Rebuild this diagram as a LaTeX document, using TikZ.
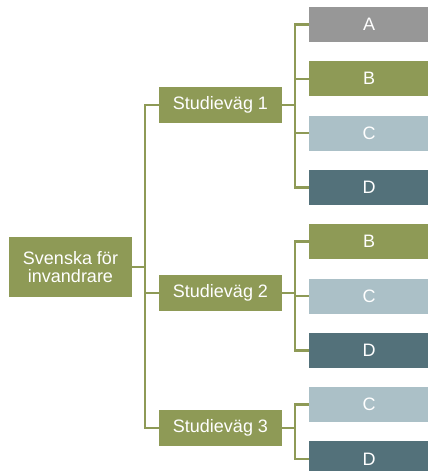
\documentclass[tikz,border=0pt]{standalone}
\usepackage{fontspec}
\setmainfont{Liberation Sans}
\usetikzlibrary{positioning}
\definecolor{olive}{HTML}{8E9A56}
\definecolor{greyA}{HTML}{979797}
\definecolor{paleC}{HTML}{ABC0C7}
\definecolor{tealD}{HTML}{53717A}
\begin{document}
\begin{tikzpicture}[x=1pt, y=-1pt, align=center, node distance=18.9pt, font=\fontsize{18}{18}\selectfont]

\tikzstyle{rootbox} = [rectangle, minimum width=123pt, minimum height=60pt, inner sep=0pt, text=white, fill=olive]
\tikzstyle{pathbox} = [rectangle, minimum width=123pt, minimum height=36pt, inner sep=0pt, text=white, fill=olive]
\tikzstyle{leaf} = [rectangle, minimum width=120pt, minimum height=35pt, inner sep=0pt, text=white]
\tikzstyle{link} = [draw=olive, line width=2.5pt]

\useasboundingbox (0,0) rectangle (428,471);

\node (sfi) [rootbox] at (70.5,267) {Svenska för\\invandrare};
\node (sv1) [pathbox] at (220.5,105) {Studieväg 1};
\node (sv2) [pathbox] at (220.5,293) {Studieväg 2};
\node (sv3) [pathbox] at (220.5,428) {Studieväg 3};

\node (a1) [leaf, fill=greyA] at (369,24.5) {A};
\node (b1) [leaf, fill=olive, below=of a1] {B};
\node (c1) [leaf, fill=paleC, below=of b1] {C};
\node (d1) [leaf, fill=tealD, below=of c1] {D};
\node (b2) [leaf, fill=olive, below=of d1] {B};
\node (c2) [leaf, fill=paleC, below=of b2] {C};
\node (d2) [leaf, fill=tealD, below=of c2] {D};
\node (c3) [leaf, fill=paleC, below=of d2] {C};
\node (d3) [leaf, fill=tealD, below=of c3] {D};

\draw [link] (sfi.east) -- ++(13,0) |- (sv1.west);
\draw [link] (sfi.east) -- ++(13,0) |- (sv2.west);
\draw [link] (sfi.east) -- ++(13,0) |- (sv3.west);

\draw [link] (sv1.east) -- ++(13,0) |- (a1.west);
\draw [link] (sv1.east) -- ++(13,0) |- (b1.west);
\draw [link] (sv1.east) -- ++(13,0) |- (c1.west);
\draw [link] (sv1.east) -- ++(13,0) |- (d1.west);
\draw [link] (sv2.east) -- ++(13,0) |- (b2.west);
\draw [link] (sv2.east) -- ++(13,0) |- (c2.west);
\draw [link] (sv2.east) -- ++(13,0) |- (d2.west);
\draw [link] (sv3.east) -- ++(13,0) |- (c3.west);
\draw [link] (sv3.east) -- ++(13,0) |- (d3.west);
\end{tikzpicture}
\end{document}
